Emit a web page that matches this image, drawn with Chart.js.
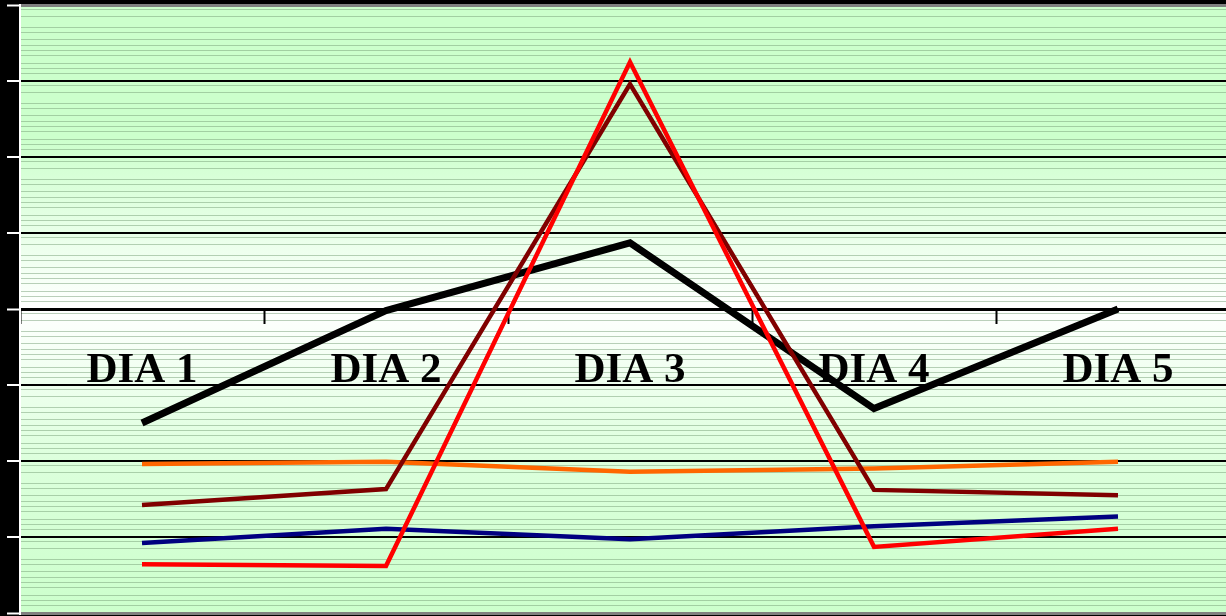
<!DOCTYPE html>
<html lang="es">
<head>
    <meta charset="UTF-8">
    <title>DIA 1 - DIA 5</title>
    <script src="https://cdn.jsdelivr.net/npm/chart.js@4/dist/chart.umd.min.js"></script>
    <style>
      html, body { margin: 0; padding: 0; background: #000; overflow: hidden; }
      #wrap { width: 1242px; height: 616px; position: relative; }
    </style>
</head>
<body>
    <div id="wrap"><canvas id="myChart"></canvas></div>

    <script>
        // categorias y valores
        const dias = ['DIA 1', 'DIA 2', 'DIA 3', 'DIA 4', 'DIA 5'];
        const serieNegra   = [-1.50, -0.02, 0.87, -1.31, 0.00];
        const serieNaranja = [-2.04, -2.01, -2.14, -2.10, -2.01];
        const serieGranate = [-2.58, -2.37, 2.96, -2.38, -2.45];
        const serieAzul    = [-3.08, -2.89, -3.03, -2.86, -2.73];
        const serieRoja    = [-3.36, -3.38, 3.25, -3.13, -2.89];
        const yTicks = [-4, -3, -2, -1, 0, 1, 2, 3, 4];

        // fondo verde degradado con rayas finas (textura)
        const fondo = {
            id: 'fondo',
            beforeDraw(chart) {
                const { ctx, chartArea: a, scales } = chart;
                const y = scales.y;
                ctx.save();
                const g = ctx.createLinearGradient(0, a.top, 0, a.bottom);
                g.addColorStop(0, '#ccffcc');
                g.addColorStop(0.22, '#ccffcc');
                g.addColorStop(0.5, '#ffffff');
                g.addColorStop(0.75, '#dcffdc');
                g.addColorStop(1, '#ccffcc');
                ctx.fillStyle = g;
                ctx.fillRect(a.left, a.top, a.right - a.left, a.bottom - a.top);
                // rayas de la textura, en fracciones de cada banda
                const rayas = [4, 11, 22, 27, 34, 40, 45, 50, 58, 63, 68];
                ctx.strokeStyle = 'rgba(120,160,120,0.5)';
                ctx.lineWidth = 1;
                ctx.beginPath();
                for (let k = 4; k > -4; k--) {
                    rayas.forEach(o => {
                        const py = Math.round(y.getPixelForValue(k - o / 76)) + 0.5;
                        ctx.moveTo(a.left, py);
                        ctx.lineTo(a.right, py);
                    });
                }
                ctx.stroke();
                ctx.restore();
            }
        };

        const linea = (label, data, color, width) => ({
            label: label,
            data: data,
            borderColor: color,
            backgroundColor: color,
            borderWidth: width,
            pointRadius: 0,
            tension: 0,
            fill: false,
            borderCapStyle: 'butt',
            borderJoinStyle: 'miter'
        });

        const ctx = document.getElementById('myChart').getContext('2d');
        new Chart(ctx, {
            type: 'line',
            data: {
                labels: dias,
                datasets: [
                    linea('Serie 5', serieRoja, '#ff0000', 4.5),
                    linea('Serie 4', serieGranate, '#800000', 4.5),
                    linea('Serie 3', serieAzul, '#000080', 4.5),
                    linea('Serie 2', serieNaranja, '#ff6600', 4.5),
                    linea('Serie 1', serieNegra, '#000000', 7)
                ]
            },
            options: {
                responsive: true,
                maintainAspectRatio: false,
                animation: false,
                layout: { padding: { left: 7, top: 5, right: 2, bottom: 3 } },
                plugins: {
                    legend: { display: false },
                    tooltip: { enabled: false }
                },
                scales: {
                    x: {
                        type: 'category',
                        position: { y: 0 },
                        offset: true,
                        grid: {
                            offset: true,
                            drawOnChartArea: false,
                            drawTicks: true,
                            tickLength: 13,
                            tickWidth: 2,
                            tickColor: '#000'
                        },
                        border: { display: true, color: '#000', width: 3 },
                        ticks: {
                            color: '#000',
                            padding: 23,
                            maxRotation: 0,
                            font: { family: '"Liberation Serif", "Times New Roman", serif', size: 43, weight: 'bold' }
                        }
                    },
                    y: {
                        min: -4,
                        max: 4,
                        afterBuildTicks: s => { s.ticks = yTicks.map(v => ({ value: v })); },
                        grid: {
                            color: c => Math.abs(c.tick.value) === 4 ? '#808080' : '#000',
                            lineWidth: c => (Math.abs(c.tick.value) === 4 || c.tick.value === 0) ? 3 : 2,
                            tickLength: 13,
                            tickWidth: 2,
                            tickColor: '#fff'
                        },
                        border: { display: true, color: '#fff', width: 2 },
                        ticks: { display: false }
                    }
                }
            },
            plugins: [fondo]
        });
    </script>
</body>
</html>
